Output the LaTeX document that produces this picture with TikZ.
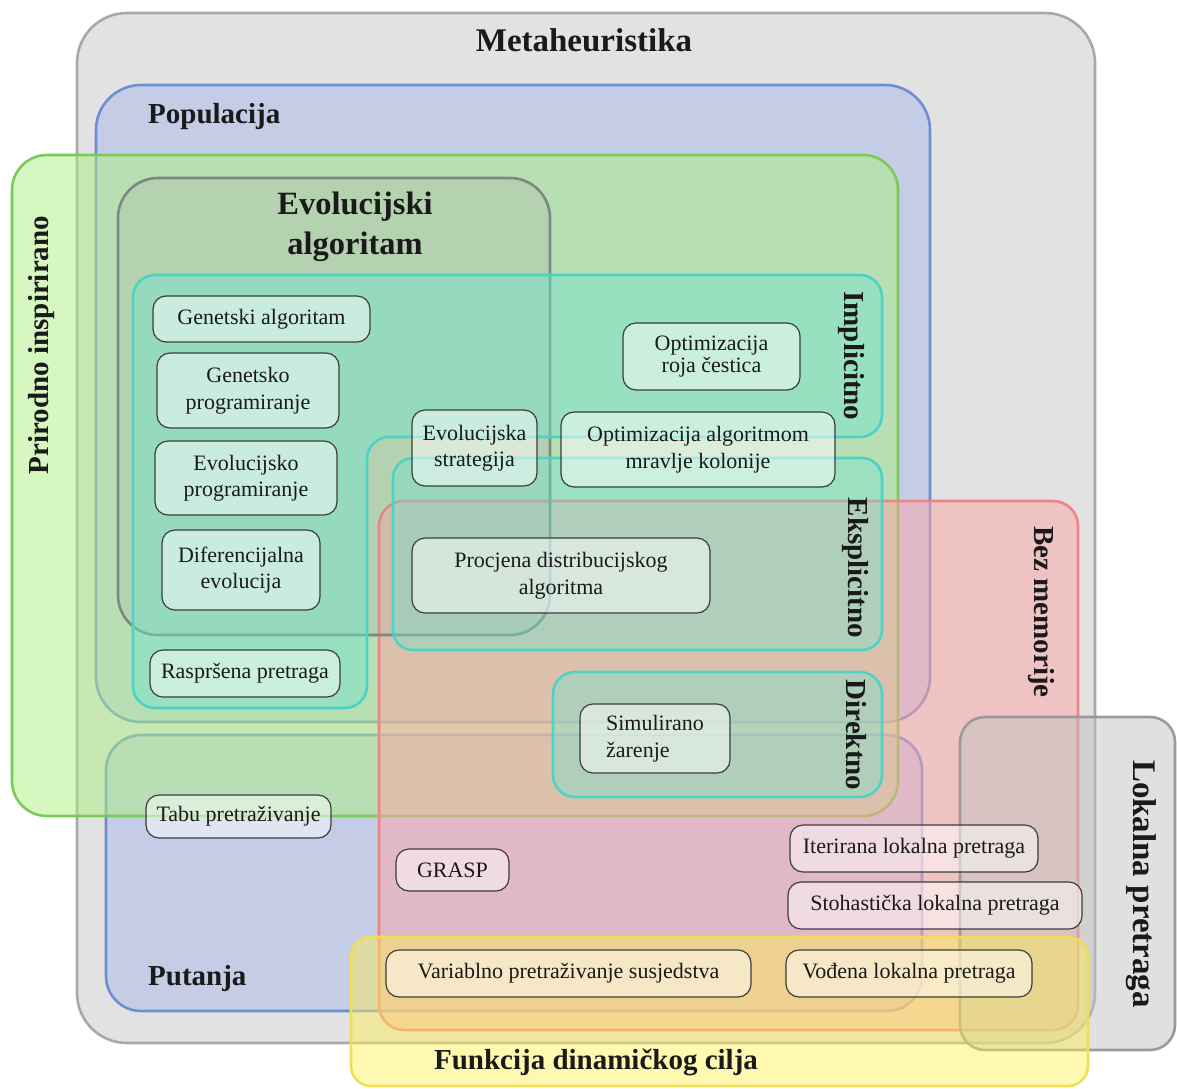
\documentclass[tikz,border=0pt]{standalone}
\usepackage{fontspec}
\setmainfont{Liberation Serif}
\definecolor{metaF}{HTML}{E2E2E2}\definecolor{metaD}{HTML}{A8A8A8}
\definecolor{bluF}{HTML}{A8B8EA}\definecolor{bluD}{HTML}{6E8ED2}
\definecolor{grnF}{HTML}{ADF181}\definecolor{grnD}{HTML}{78CC55}
\definecolor{evoF}{HTML}{A4A4A4}\definecolor{evoD}{HTML}{7A8A82}
\definecolor{tealF}{HTML}{70E4D2}\definecolor{tealD}{HTML}{4ED2C4}
\definecolor{redF}{HTML}{FFA6A6}\definecolor{redD}{HTML}{EE8484}
\definecolor{lokF}{HTML}{C2C2C2}\definecolor{lokD}{HTML}{9A9A9A}
\definecolor{yelF}{HTML}{FFF050}\definecolor{yelD}{HTML}{F0DE5A}
\definecolor{boxD}{HTML}{3C3C3C}\definecolor{ink}{HTML}{1A1A1A}
\tikzset{
  region/.style={line width=2.6pt},
  bigtitle/.style={text=ink, font=\fontsize{33}{36}\selectfont\bfseries, inner sep=0pt},
  label/.style={text=ink, font=\fontsize{29}{34}\selectfont\bfseries, inner sep=0pt},
  algbox/.style={draw=boxD, line width=1.2pt, fill=white, fill opacity=0.5, text opacity=1,
    text=ink, rounded corners=13pt, inner sep=0pt, align=center,
    font=\fontsize{22}{26.5}\selectfont},
}
\begin{document}
\begin{tikzpicture}[x=1pt,y=-1pt]
\useasboundingbox (0,0) rectangle (1177,1088);
% Metaheuristika
\draw[region, metaD, fill=metaF, rounded corners=50pt] (77,13) rectangle (1095,1043);
% Populacija
\draw[region, bluD, fill=bluF, fill opacity=0.5, rounded corners=45pt] (96,85) rectangle (930,722);
% Putanja
\draw[region, bluD, fill=bluF, fill opacity=0.5, rounded corners=35pt] (106,735) rectangle (922,1011);
% Prirodno inspirirano
\draw[region, grnD, fill=grnF, fill opacity=0.5, rounded corners=35pt] (12,155) rectangle (898,816);
% Bez memorije
\draw[region, redD, fill=redF, fill opacity=0.5, rounded corners=25pt] (379,501) rectangle (1078,1030);
% Evolucijski algoritam
\draw[region, evoD, fill=evoF, fill opacity=0.2, rounded corners=40pt] (118,178) rectangle (550,635);
% Implicitno
\draw[region, tealD, fill=tealF, fill opacity=0.45, rounded corners=22pt]
  (133,275) -- (882,275) -- (882,437) -- (367,437) -- (367,708) -- (133,708) -- cycle;
% Eksplicitno
\draw[region, tealD, fill=tealF, fill opacity=0.4, rounded corners=20pt] (393,458) rectangle (882,650);
% Direktno
\draw[region, tealD, fill=tealF, fill opacity=0.4, rounded corners=22pt] (553,672) rectangle (882,797);
% Lokalna pretraga
\draw[region, lokD, fill=lokF, fill opacity=0.5, rounded corners=25pt] (960,717) rectangle (1175,1050);
% Funkcija dinamickog cilja
\draw[region, yelD, fill=yelF, fill opacity=0.45, rounded corners=20pt] (351,937) rectangle (1088,1086);

% region labels
\node[bigtitle] (tMeta) at (584,40) {Metaheuristika};
\node[label, anchor=west] (tPop) at (148,117) {Populacija};
\node[label, anchor=west] (tPut) at (148,979) {Putanja};
\node[label, rotate=90] (tPri) at (42,345) {Prirodno inspirirano};
\node[bigtitle, align=center, font=\fontsize{32.5}{40}\selectfont\bfseries] (tEvo) at (355,227) {Evolucijski\\algoritam};
\node[label, rotate=-90] (tImp) at (851,356) {Implicitno};
\node[label, rotate=-90] (tEks) at (855,568) {Eksplicitno};
\node[label, rotate=-90] (tDir) at (856,735) {Direktno};
\node[label, rotate=-90] (tBez) at (1041,612) {Bez memorije};
\node[bigtitle, rotate=-90] (tLok) at (1141,884) {Lokalna pretraga};
\node[label] (tFun) at (596,1062) {Funkcija dinamičkog cilja};

% algorithm boxes
\node[algbox, minimum width=217pt, minimum height=46pt] (ga) at (261.5,319) {Genetski algoritam};
\node[algbox, minimum width=182pt, minimum height=75pt] (gp) at (248,390.5) {Genetsko\\programiranje};
\node[algbox, minimum width=182pt, minimum height=74pt] (ep) at (246,478) {Evolucijsko\\programiranje};
\node[algbox, minimum width=158pt, minimum height=80pt] (de) at (241,570) {Diferencijalna\\evolucija};
\node[algbox, minimum width=190pt, minimum height=47pt] (ss) at (245,673.5) {Raspršena pretraga};
\node[algbox, minimum width=125pt, minimum height=76pt] (es) at (474.5,448) {Evolucijska\\strategija};
\node[algbox, minimum width=177pt, minimum height=67pt, font=\fontsize{22}{22}\selectfont] (pso) at (711.5,356.5) {Optimizacija\\roja čestica};
\node[algbox, minimum width=274pt, minimum height=75pt] (aco) at (698,449.5) {Optimizacija algoritmom\\mravlje kolonije};
\node[algbox, minimum width=298pt, minimum height=75pt] (eda) at (561,575.5) {Procjena distribucijskog\\algoritma};
\node[algbox, minimum width=150pt, minimum height=69pt, align=left] (sa) at (655,738.5) {Simulirano\\žarenje};
\node[algbox, minimum width=185pt, minimum height=43pt] (ts) at (238.5,816.5) {Tabu pretraživanje};
\node[algbox, minimum width=113pt, minimum height=42pt] (grasp) at (452.5,870) {GRASP};
\node[algbox, minimum width=248pt, minimum height=47pt] (ils) at (914,848.5) {Iterirana lokalna pretraga};
\node[algbox, minimum width=294pt, minimum height=47pt] (sls) at (935,905.5) {Stohastička lokalna pretraga};
\node[algbox, minimum width=365pt, minimum height=47pt] (vns) at (568.5,973.5) {Variablno pretraživanje susjedstva};
\node[algbox, minimum width=246pt, minimum height=47pt] (gls) at (909,973.5) {Vođena lokalna pretraga};
\end{tikzpicture}
\end{document}
